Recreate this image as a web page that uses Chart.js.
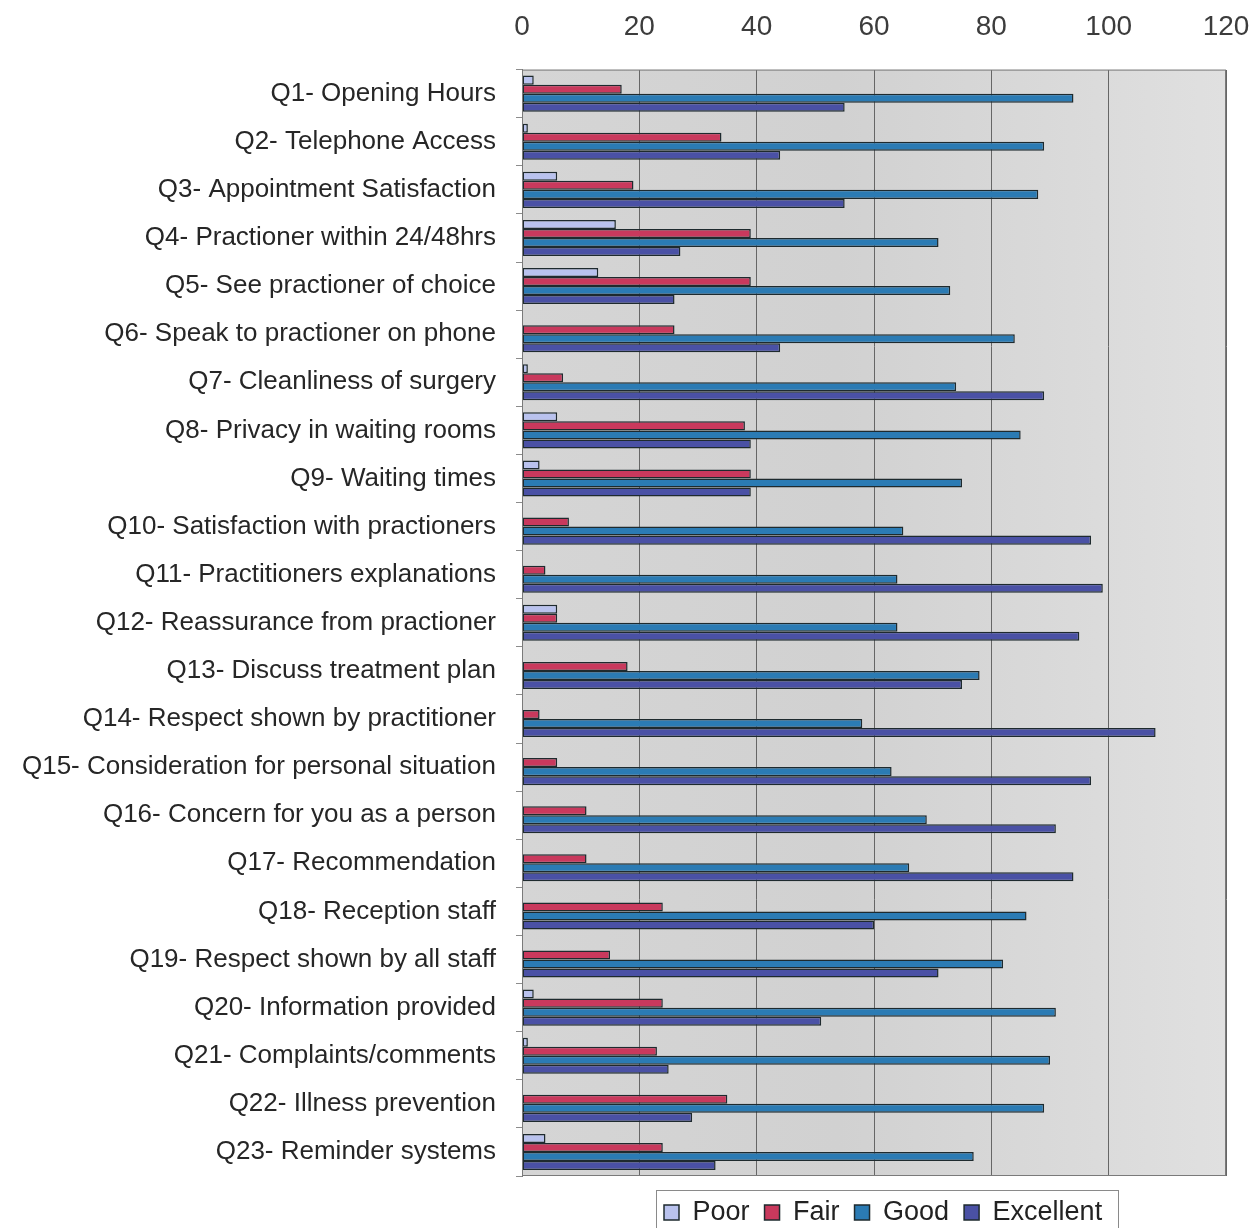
<!DOCTYPE html>
<html>
<head>
<meta charset="utf-8">
<title>Patient survey results</title>
<script src="https://cdn.jsdelivr.net/npm/chart.js@4/dist/chart.umd.min.js"></script>
<style>
  html, body { margin: 0; padding: 0; background: #ffffff; }
  #wrap { width: 1250px; height: 1228px; }
</style>
</head>
<body>
<div id="wrap"><canvas id="survey" width="1250" height="1228"></canvas></div>
<script>
// Survey questions (one row each)
const questions = [
  'Q1- Opening Hours',
  'Q2- Telephone Access',
  'Q3- Appointment Satisfaction',
  'Q4- Practioner within 24/48hrs',
  'Q5- See practioner of choice',
  'Q6- Speak to practioner on phone',
  'Q7- Cleanliness of surgery',
  'Q8- Privacy in waiting rooms',
  'Q9- Waiting times',
  'Q10- Satisfaction with practioners',
  'Q11- Practitioners explanations',
  'Q12- Reassurance from practioner',
  'Q13- Discuss treatment plan',
  'Q14- Respect shown by practitioner',
  'Q15- Consideration for personal situation',
  'Q16- Concern for you as a person',
  'Q17- Recommendation',
  'Q18- Reception staff',
  'Q19- Respect shown by all staff',
  'Q20- Information provided',
  'Q21- Complaints/comments',
  'Q22- Illness prevention',
  'Q23- Reminder systems'
];

// Number of responses per rating
const poor      = [2, 1, 6, 16, 13, 0, 1, 6, 3, 0, 0, 6, 0, 0, 0, 0, 0, 0, 0, 2, 1, 0, 4];
const fair      = [17, 34, 19, 39, 39, 26, 7, 38, 39, 8, 4, 6, 18, 3, 6, 11, 11, 24, 15, 24, 23, 35, 24];
const good      = [94, 89, 88, 71, 73, 84, 74, 85, 75, 65, 64, 64, 78, 58, 63, 69, 66, 86, 82, 91, 90, 89, 77];
const excellent = [55, 44, 55, 27, 26, 44, 89, 39, 39, 97, 99, 95, 75, 108, 97, 91, 94, 60, 71, 51, 25, 29, 33];

const ratingNames = ['Poor', 'Fair', 'Good', 'Excellent'];
const xTicks = [0, 20, 40, 60, 80, 100, 120];

const fills = ['#b9c2ee', '#c9395d', '#2b7bb4', '#4a51a5'];
const edge = '#1e2a2e';

const series = [poor, fair, good, excellent];

// Grey gradient behind the bars and a thin frame round the plot
const plotBackground = {
  id: 'plotBackground',
  beforeDraw(chart) {
    const { ctx, chartArea: a } = chart;
    const g = ctx.createLinearGradient(a.left, 0, a.right, 0);
    g.addColorStop(0, '#d5d5d5');
    g.addColorStop(0.45, '#d1d1d1');
    g.addColorStop(1, '#e0e0e0');
    ctx.save();
    ctx.fillStyle = g;
    ctx.fillRect(a.left, a.top, a.right - a.left, a.bottom - a.top);
    ctx.restore();
  },
  afterDatasetsDraw(chart) {
    const { ctx, chartArea: a } = chart;
    ctx.save();
    ctx.strokeStyle = '#7a7a7a';
    ctx.lineWidth = 1;
    ctx.strokeRect(a.left + 0.5, a.top + 0.5, a.right - a.left - 1, a.bottom - a.top - 1);
    ctx.restore();
  }
};

// Place the legend under the right part of the plot and frame it
const legendFrame = {
  id: 'legendFrame',
  afterLayout(chart) {
    const lg = chart.legend;
    if (!lg || !lg.lineWidths) return;
    const pad = lg.options.labels.padding;
    const startX = 664;
    lg.left = startX - pad;
    lg.right = lg.left + pad + lg.lineWidths[0];
    lg.top = 1184;
  },
  afterDraw(chart) {
    const lg = chart.legend;
    if (!lg) return;
    const { ctx } = chart;
    ctx.save();
    ctx.strokeStyle = '#8a8a8a';
    ctx.lineWidth = 1;
    ctx.strokeRect(656.5, 1190.5, 462, 60);
    ctx.restore();
  }
};

new Chart(document.getElementById('survey'), {
  type: 'bar',
  data: {
    labels: questions,
    datasets: series.map((values, i) => ({
      label: ratingNames[i],
      data: values,
      backgroundColor: fills[i],
      borderColor: edge,
      borderWidth: 1.5,
      borderSkipped: false,
      categoryPercentage: 0.75,
      barPercentage: 1.0
    }))
  },
  options: {
    indexAxis: 'y',
    responsive: false,
    animation: false,
    devicePixelRatio: 1,
    layout: { padding: { top: -16, right: 24, left: 8, bottom: 0 } },
    plugins: {
      legend: {
        position: 'bottom',
        labels: {
          color: '#222222',
          font: { family: 'Liberation Sans, Arial, sans-serif', size: 27 },
          boxWidth: 15,
          boxHeight: 15,
          padding: 15
        }
      },
      tooltip: { enabled: false },
      title: { display: false }
    },
    scales: {
      x: {
        position: 'top',
        min: 0,
        max: 120,
        afterBuildTicks(scale) {
          scale.ticks = xTicks.map(v => ({ value: v }));
        },
        afterFit(scale) { scale.paddingRight = 0; },
        ticks: {
          color: '#3c3c3c',
          font: { family: 'Liberation Sans, Arial, sans-serif', size: 28 },
          padding: 26,
          maxRotation: 0
        },
        grid: {
          color: '#666666',
          lineWidth: 1,
          drawTicks: false
        },
        border: { display: false }
      },
      y: {
        afterFit(scale) { scale.width = 514; },
        ticks: {
          color: '#262626',
          font: { family: 'Liberation Sans, Arial, sans-serif', size: 26 },
          padding: 20
        },
        grid: {
          drawOnChartArea: false,
          drawTicks: true,
          tickLength: 6,
          color: '#8c8c8c',
          offset: true
        },
        border: { display: true, color: '#7a7a7a' }
      }
    }
  },
  plugins: [plotBackground, legendFrame]
});
</script>
</body>
</html>
